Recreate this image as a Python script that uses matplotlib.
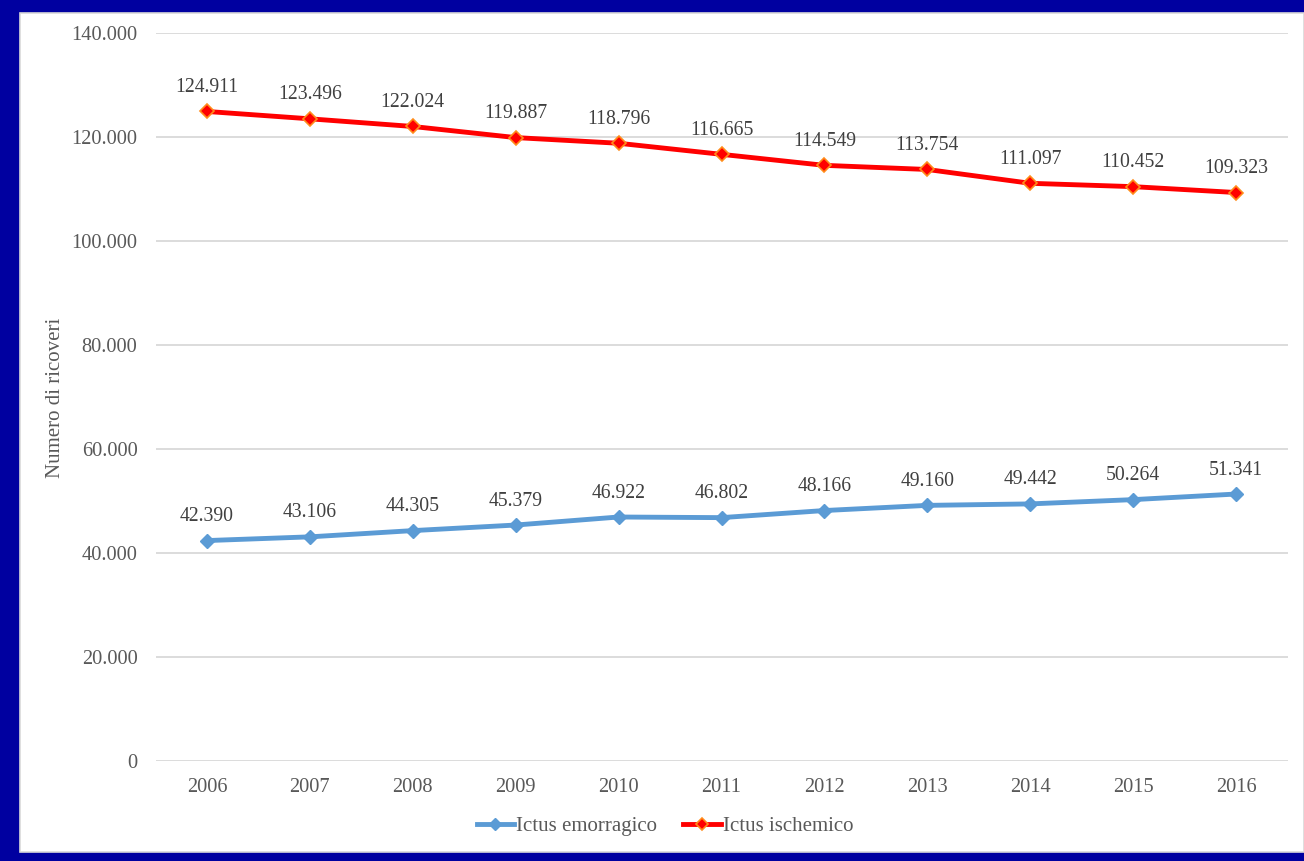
import matplotlib.pyplot as plt
from matplotlib.patches import Rectangle
from matplotlib.ticker import FuncFormatter

plt.rcParams['font.family'] = ['Liberation Serif', 'DejaVu Serif']

# --- dati ---
anni = ['2006', '2007', '2008', '2009', '2010', '2011', '2012', '2013', '2014', '2015', '2016']
emorragico = [42390, 43106, 44305, 45379, 46922, 46802, 48166, 49160, 49442, 50264, 51341]
ischemico = [124911, 123496, 122024, 119887, 118796, 116665, 114549, 113754, 111097, 110452, 109323]

W, H = 1304, 861
fig = plt.figure(figsize=(W / 100, H / 100), dpi=100)
fig.patch.set_facecolor('#0000A0')

# pannello bianco dentro la cornice blu
fig.patches.append(Rectangle((20 / W, 9 / H), (W - 20) / W, (852 - 13) / H,
                             transform=fig.transFigure, facecolor='white',
                             edgecolor='#D9D9D9', linewidth=1.2, zorder=-10))

ax = fig.add_axes([155.5 / W, (H - 761) / H, (1287.5 - 155.5) / W, (761 - 33) / H])
ax.set_facecolor('none')

x = list(range(len(anni)))
grigio = '#595959'

ax.plot(x, emorragico, color='#5B9BD5', lw=3.5, marker='D', markersize=7,
        markerfacecolor='#5B9BD5', markeredgecolor='#5B9BD5', label='Ictus emorragico', zorder=3)
ax.plot(x, ischemico, color='#FF0000', lw=3.5, marker='D', markersize=7,
        markerfacecolor='#FF0000', markeredgecolor='#FF8C1A', markeredgewidth=1.2,
        label='Ictus ischemico', zorder=3)

def fmt(v):
    return f'{int(v):,}'.replace(',', '.')

for serie in (emorragico, ischemico):
    for xi, v in zip(x, serie):
        ax.annotate(fmt(v), (xi, v), xytext=(0, 24), textcoords='offset pixels',
                    ha='center', va='center', fontsize=14.2, color='#404040')

ax.set_xlim(-0.5, len(anni) - 0.5)
ax.set_ylim(0, 140000)
ax.set_yticks(range(0, 140001, 20000))
ax.yaxis.set_major_formatter(FuncFormatter(lambda v, p: fmt(v)))
ax.set_xticks(x)
ax.set_xticklabels(anni)
ax.tick_params(length=0, labelsize=14.7, labelcolor=grigio)
ax.tick_params(axis='y', pad=13)
ax.tick_params(axis='x', pad=12)
ax.grid(axis='y', color='#D9D9D9', lw=1.3)
ax.set_axisbelow(True)
for s in ax.spines.values():
    s.set_visible(False)

fig.text(56 / W, (H - 398) / H, 'Numero di ricoveri', rotation=90, ha='center', va='center',
         fontsize=15, color=grigio)

fig.legend(loc='center', bbox_to_anchor=(665 / W, (H - 826) / H), ncol=2, frameon=False,
           fontsize=15, labelcolor=grigio, handlelength=1.8, handletextpad=0.1,
           columnspacing=1.25, markerscale=0.9)

fig.savefig('out.png', dpi=100, facecolor=fig.get_facecolor())
